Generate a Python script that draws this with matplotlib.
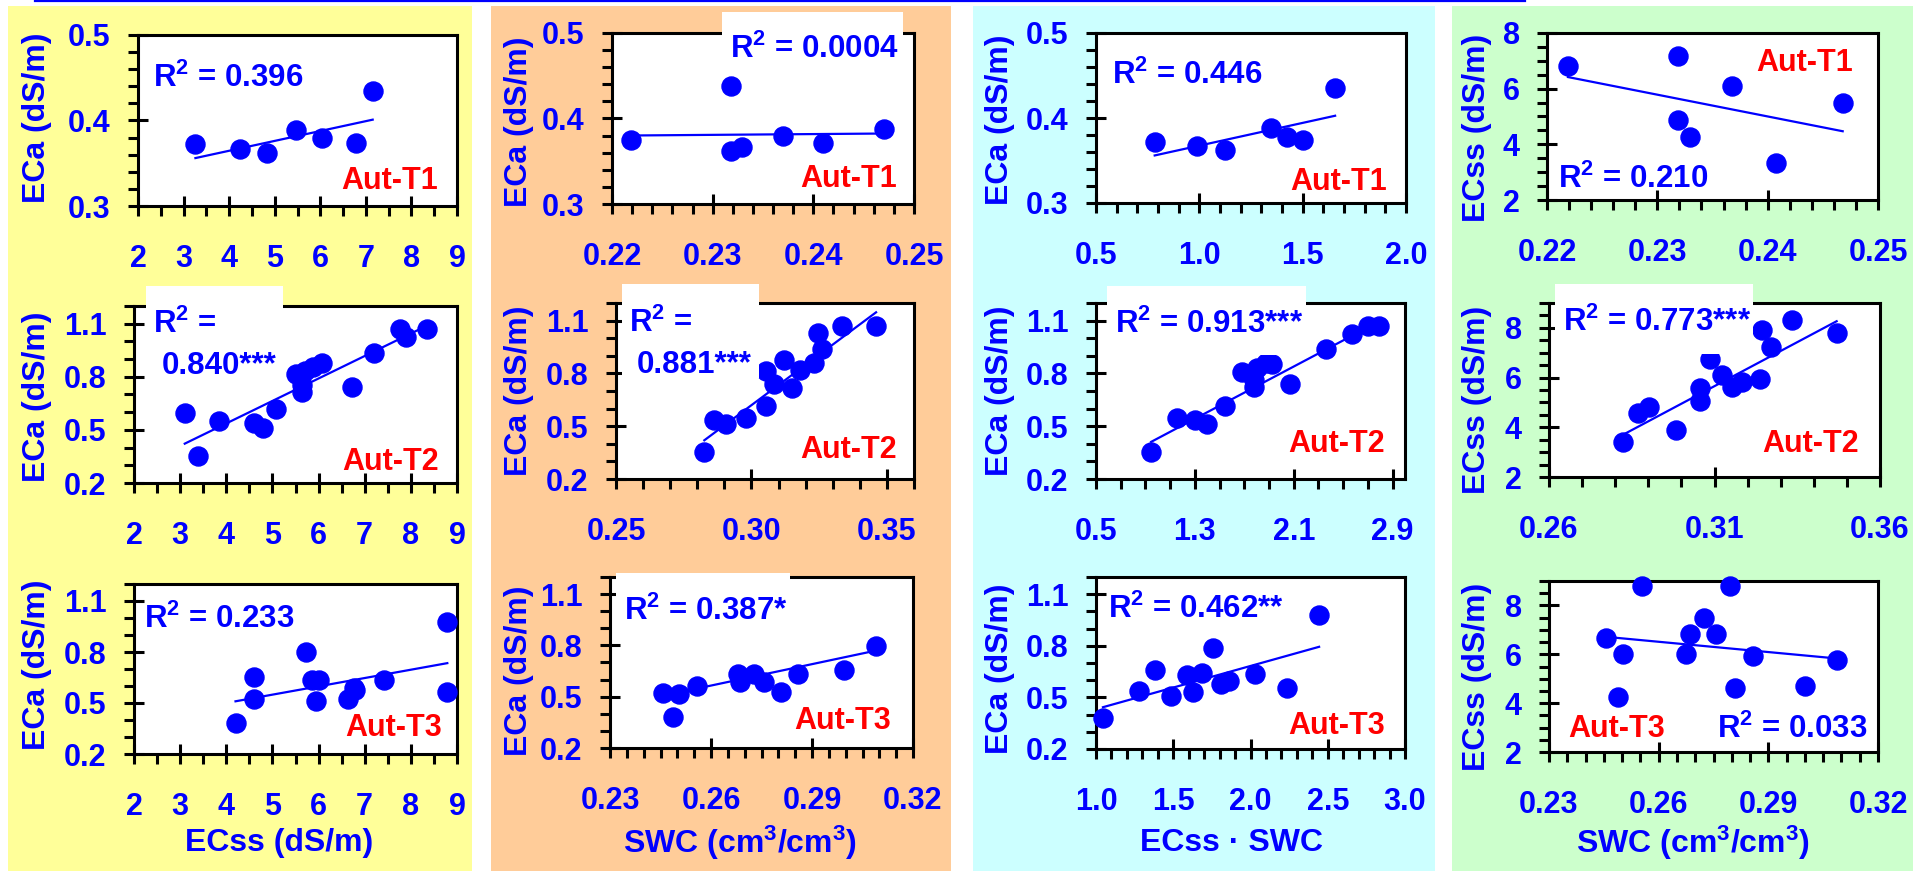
import numpy as np
import matplotlib
matplotlib.use("Agg")
import matplotlib.pyplot as plt
from matplotlib.patches import Rectangle
from matplotlib.lines import Line2D
from matplotlib.ticker import FixedLocator, FormatStrFormatter

# ── Aut-T1 ───────────────────────────────────────────────────────────────────
T1_ECSS_A = [3.26, 4.24, 4.84, 5.47, 6.03, 6.79, 7.15]
T1_ECA_A  = [0.372, 0.367, 0.362, 0.389, 0.379, 0.374, 0.435]
T1_SWC_B  = [0.2219, 0.2318, 0.2318, 0.2329, 0.2370, 0.2410, 0.2470]
T1_ECA_B  = [0.3746, 0.4375, 0.3625, 0.3672, 0.3790, 0.3719, 0.3883]
T1_PROD_C = [0.784, 0.988, 1.122, 1.346, 1.423, 1.500, 1.657]
T1_ECA_C  = [0.372, 0.367, 0.362, 0.388, 0.378, 0.3745, 0.435]
T1_SWC_D  = [0.2219, 0.2319, 0.2319, 0.2330, 0.2368, 0.2408, 0.2468]
T1_ECSS_D = [6.80, 7.18, 4.86, 4.28, 6.08, 3.34, 5.50]

# ── Aut-T2 ───────────────────────────────────────────────────────────────────
T2_ECSS_A = [3.10, 3.38, 3.85, 4.59, 4.80, 5.07, 5.50, 5.71, 5.64, 5.64,
             5.89, 6.07, 6.72, 7.21, 7.77, 7.89, 8.34]
T2_ECA_A  = [0.594, 0.353, 0.551, 0.537, 0.513, 0.617, 0.816, 0.831, 0.755, 0.712,
             0.856, 0.878, 0.742, 0.935, 1.072, 1.026, 1.072]
T2_SWC_B  = [0.2826, 0.2863, 0.2906, 0.2979, 0.3053, 0.3053, 0.3083, 0.3120,
             0.3150, 0.3181, 0.3232, 0.3246, 0.3260, 0.3334, 0.3460]
T2_ECA_B  = [0.355, 0.538, 0.511, 0.549, 0.615, 0.813, 0.742, 0.877,
             0.719, 0.821, 0.858, 1.028, 0.936, 1.072, 1.072]
T2_PROD_C = [0.946, 1.157, 1.300, 1.400, 1.543, 1.678, 1.778, 1.778,
             1.805, 1.873, 1.927, 2.068, 2.359, 2.570, 2.703, 2.792]
T2_ECA_C  = [0.355, 0.549, 0.538, 0.511, 0.615, 0.808, 0.723, 0.764,
             0.832, 0.858, 0.851, 0.742, 0.936, 1.025, 1.072, 1.072]
T2_SWC_D  = [0.2825, 0.2868, 0.2903, 0.2983, 0.3056, 0.3056, 0.3086, 0.3122,
             0.3152, 0.3184, 0.3237, 0.3244, 0.3270, 0.3335, 0.3469]
T2_ECSS_D = [3.39, 4.58, 4.82, 3.88, 5.58, 5.05, 6.74, 6.11,
             5.64, 5.84, 5.95, 7.93, 7.23, 8.33, 7.80]

# ── Aut-T3 ───────────────────────────────────────────────────────────────────
T3_ECSS_A = [4.20, 4.60, 4.60, 5.72, 5.85, 6.00, 5.95, 6.63, 6.76, 6.80,
             7.42, 8.79, 8.79]
T3_ECA_A  = [0.383, 0.654, 0.526, 0.799, 0.634, 0.634, 0.514, 0.526, 0.589, 0.578,
             0.634, 0.976, 0.565]
T3_SWC_B  = [0.2457, 0.2505, 0.2486, 0.2558, 0.2679, 0.2685, 0.2727, 0.2757,
             0.2809, 0.2858, 0.2994, 0.3090]
T3_ECA_B  = [0.524, 0.514, 0.383, 0.563, 0.634, 0.585, 0.634, 0.585,
             0.528, 0.634, 0.657, 0.797]
T3_PROD_C = [1.045, 1.280, 1.379, 1.485, 1.588, 1.625, 1.685, 1.756, 1.810,
             1.858, 2.030, 2.235, 2.444]
T3_ECA_C  = [0.381, 0.535, 0.661, 0.507, 0.629, 0.531, 0.643, 0.790, 0.580,
             0.594, 0.638, 0.556, 0.977]
T3_SWC_D  = [0.2455, 0.2503, 0.2490, 0.2554, 0.2675, 0.2686, 0.2725, 0.2758,
             0.2796, 0.2808, 0.2857, 0.3001, 0.3087]
T3_ECSS_D = [6.68, 6.00, 4.26, 8.79, 6.00, 6.82, 7.47, 6.82,
             8.79, 4.61, 5.93, 4.70, 5.75]

# regression lines (slope, intercept) per panel, left to right
T1_SLOPE = [0.01155, 0.0916, 0.0535, -78.2]
T1_INTER = [0.3184, 0.3598, 0.314, 23.77]
T2_SLOPE = [0.127, 11.47, 0.371, 70.76]
T2_INTER = [0.0286, -2.8215, 0.060, -16.28]
T3_SLOPE = [0.0489, 4.175, 0.251, -14.03]
T3_INTER = [0.3046, -0.5204, 0.1807, 10.16]

R2_T1 = ["0.396", "0.0004", "0.446", "0.210"]
R2_T2 = ["0.840***", "0.881***", "0.913***", "0.773***"]
R2_T3 = ["0.233", "0.387*", "0.462**", "0.033"]
TREAT = ["Aut-T1", "Aut-T2", "Aut-T3"]

# axis ticks
ECSS_TICKS = [2, 3, 4, 5, 6, 7, 8, 9]
ECA_TICKS_T1 = [0.3, 0.4, 0.5]
ECA_TICKS = [0.2, 0.5, 0.8, 1.1]
SWC_TICKS_T1 = [0.22, 0.23, 0.24, 0.25]
SWC_TICKS_T2B = [0.25, 0.30, 0.35]
SWC_TICKS_T2D = [0.26, 0.31, 0.36]
SWC_TICKS_T3 = [0.23, 0.26, 0.29, 0.32]
PROD_TICKS_T1 = [0.5, 1.0, 1.5, 2.0]
PROD_TICKS_T2 = [0.5, 1.3, 2.1, 2.9]
PROD_TICKS_T3 = [1.0, 1.5, 2.0, 2.5, 3.0]
ECSS_Y_TICKS = [2, 4, 6, 8]

ECA_LABEL = "ECa (dS/m)"
ECSS_LABEL = "ECss (dS/m)"
SWC_LABEL = "SWC (cm$^{3}$/cm$^{3}$)"
PROD_LABEL = "ECss \u00b7 SWC"
R2 = "R$^{2}$ ="

# ── style ────────────────────────────────────────────────────────────────────
W, H = 1923, 871
BLUE, RED = "#0000FF", "#FF0000"
plt.rcParams.update({
    "font.family": "Liberation Sans", "font.weight": "bold",
    "mathtext.fontset": "custom", "mathtext.rm": "Liberation Sans:bold",
    "mathtext.it": "Liberation Sans:bold", "mathtext.bf": "Liberation Sans:bold",
    "mathtext.default": "rm",
})

fig = plt.figure(figsize=(W / 100, H / 100), dpi=100)


def fx(x):
    return x / W


def fy(y):
    return 1 - y / H


def frect(x0, y0, x1, y1, color, z):
    fig.add_artist(Rectangle((fx(x0), fy(y1)), fx(x1) - fx(x0), fy(y0) - fy(y1),
                             transform=fig.transFigure, facecolor=color,
                             edgecolor="none", zorder=z))


def ftext(x, y, s, color=BLUE, size=22.5, ha="left", **kw):
    fig.text(fx(x), fy(y), s, color=color, fontsize=size, ha=ha,
             va="baseline", fontweight="bold", zorder=6, **kw)


# column backgrounds
for x0, x1, c in [(8, 472, "#FFFF99"), (491, 951, "#FFCC99"),
                  (973, 1435, "#CCFFFF"), (1452, 1913, "#CCFFCC")]:
    frect(x0, 6, x1, H, c, -1)

fig.add_artist(Line2D([fx(35), fx(1525)], [fy(1), fy(1)], transform=fig.transFigure,
                      color=BLUE, lw=1.6, zorder=6))

# axes frames in pixels: left, right, top, bottom
BOXES = [
    [(138, 457, 35, 206), (612, 914, 33, 204), (1096, 1406, 33, 203), (1547, 1878, 33, 200)],
    [(134, 457, 306, 483), (616, 914, 303, 479), (1096, 1405, 303, 479), (1549, 1880, 303, 477)],
    [(134, 457, 584, 754), (610, 913, 577, 748), (1096, 1405, 577, 749), (1549, 1878, 581, 752)],
]

PANELS = [
    [(T1_ECSS_A, T1_ECA_A), (T1_SWC_B, T1_ECA_B), (T1_PROD_C, T1_ECA_C), (T1_SWC_D, T1_ECSS_D)],
    [(T2_ECSS_A, T2_ECA_A), (T2_SWC_B, T2_ECA_B), (T2_PROD_C, T2_ECA_C), (T2_SWC_D, T2_ECSS_D)],
    [(T3_ECSS_A, T3_ECA_A), (T3_SWC_B, T3_ECA_B), (T3_PROD_C, T3_ECA_C), (T3_SWC_D, T3_ECSS_D)],
]
SLOPES = [T1_SLOPE, T2_SLOPE, T3_SLOPE]
INTERS = [T1_INTER, T2_INTER, T3_INTER]

# (xlim, major ticks, minor step, fmt) for each panel
XAX = [
    [((2, 9), ECSS_TICKS, 0.5, "%d"), ((0.22, 0.25), SWC_TICKS_T1, 0.002, "%.2f"),
     ((0.5, 2.0), PROD_TICKS_T1, 0.1, "%.1f"), ((0.22, 0.25), SWC_TICKS_T1, 0.002, "%.2f")],
    [((2, 9), ECSS_TICKS, 0.5, "%d"), ((0.25, 0.36), SWC_TICKS_T2B, 0.01, "%.2f"),
     ((0.5, 3.0), PROD_TICKS_T2, 0.2, "%.1f"), ((0.26, 0.36), SWC_TICKS_T2D, 0.01, "%.2f")],
    [((2, 9), ECSS_TICKS, 0.5, "%d"), ((0.23, 0.32), SWC_TICKS_T3, 0.005, "%.2f"),
     ((1.0, 3.0), PROD_TICKS_T3, 0.1, "%.1f"), ((0.23, 0.32), SWC_TICKS_T3, 0.005, "%.2f")],
]
YAX_ECA_T1 = ((0.3, 0.5), ECA_TICKS_T1, 0.02, "%.1f")
YAX_ECA = ((0.2, 1.2), ECA_TICKS, 0.1, "%.1f")
YAX_T1_ECSS = ((2, 8), ECSS_Y_TICKS, 0.5, "%d")
YAX_ECSS = ((2, 9), ECSS_Y_TICKS, 0.5, "%d")
YAX = [
    [YAX_ECA_T1, YAX_ECA_T1, YAX_ECA_T1, YAX_T1_ECSS],
    [YAX_ECA, YAX_ECA, YAX_ECA, YAX_ECSS],
    [YAX_ECA, YAX_ECA, YAX_ECA, YAX_ECSS],
]


def set_axis(axis, spec):
    lim, major, step, fmt = spec
    axis.set_major_locator(FixedLocator(major))
    axis.set_minor_locator(FixedLocator(np.arange(lim[0], lim[1] + step / 2, step)))
    axis.set_major_formatter(FormatStrFormatter(fmt))
    return lim


for r in range(3):
    for c in range(4):
        l, rr, t, b = BOXES[r][c]
        ax = fig.add_axes([fx(l), fy(b), fx(rr) - fx(l), fy(t) - fy(b)])
        ax.set_xlim(set_axis(ax.xaxis, XAX[r][c]))
        ax.set_ylim(set_axis(ax.yaxis, YAX[r][c]))
        for s in ax.spines.values():
            s.set_linewidth(2.2)
        ax.tick_params(which="major", direction="inout", length=14.4, width=2.2,
                       labelsize=22, labelcolor=BLUE)
        ax.tick_params(axis="x", which="major", pad=20.5)
        ax.tick_params(axis="y", which="major", pad=12.5)
        ax.tick_params(which="minor", direction="out", length=7.2, width=2.2)

        x, y = PANELS[r][c]
        xs = np.array([min(x), max(x)])
        ax.plot(xs, SLOPES[r][c] * xs + INTERS[r][c], color=BLUE, lw=1.6, zorder=2)
        ax.plot(x, y, "o", ms=13.7, color=BLUE, mec=BLUE, zorder=3, clip_on=False)

# white boxes behind the R² labels
for x0, y0, x1, y1 in [(722, 12, 903, 62), (146, 286, 283, 380), (622, 284, 759, 378),
                       (1107, 286, 1306, 355), (1555, 284, 1753, 354), (616, 573, 790, 630)]:
    frect(x0, y0, x1, y1, "white", 5)

# R² annotations
ftext(153, 87, R2 + " " + R2_T1[0])
ftext(730, 58, R2 + " " + R2_T1[1])
ftext(1112, 84, R2 + " " + R2_T1[2])
ftext(1558, 188, R2 + " " + R2_T1[3])
ftext(153, 333, R2)
ftext(162, 374, R2_T2[0])
ftext(629, 332, R2)
ftext(637, 373, R2_T2[1])
ftext(1115, 333, R2 + " " + R2_T2[2])
ftext(1563, 331, R2 + " " + R2_T2[3])
ftext(144, 628, R2 + " " + R2_T3[0])
ftext(624, 620, R2 + " " + R2_T3[1])
ftext(1108, 618, R2 + " " + R2_T3[2])
ftext(1868, 738, R2 + " " + R2_T3[3], ha="right")

# treatment tags
ftext(438, 189, TREAT[0], RED, 22, "right")
ftext(897, 187, TREAT[0], RED, 22, "right")
ftext(1387, 190, TREAT[0], RED, 22, "right")
ftext(1853, 71, TREAT[0], RED, 22, "right")
ftext(439, 470, TREAT[1], RED, 22, "right")
ftext(897, 458, TREAT[1], RED, 22, "right")
ftext(1385, 452, TREAT[1], RED, 22, "right")
ftext(1859, 452, TREAT[1], RED, 22, "right")
ftext(442, 736, TREAT[2], RED, 22, "right")
ftext(891, 729, TREAT[2], RED, 22, "right")
ftext(1385, 734, TREAT[2], RED, 22, "right")
ftext(1568, 737, TREAT[2], RED, 22, "left")

# y-axis titles
for (x, ys, s) in [(37, (118, 397, 665), ECA_LABEL), (519, (122, 391, 671), ECA_LABEL),
                   (1000, (120, 391, 669), ECA_LABEL), (1477, (128, 400, 677), ECSS_LABEL)]:
    for y in ys:
        fig.text(fx(x), fy(y), s, rotation=90, ha="center", va="center",
                 color=BLUE, fontsize=23, fontweight="bold", zorder=6)

# x-axis titles on the bottom row
for x, s in [(279, ECSS_LABEL), (740, SWC_LABEL), (1231, PROD_LABEL), (1693, SWC_LABEL)]:
    fig.text(fx(x), fy(843), s, ha="center", va="center", color=BLUE,
             fontsize=23, fontweight="bold", zorder=6)

fig.savefig("out.png", dpi=100, facecolor="white")
